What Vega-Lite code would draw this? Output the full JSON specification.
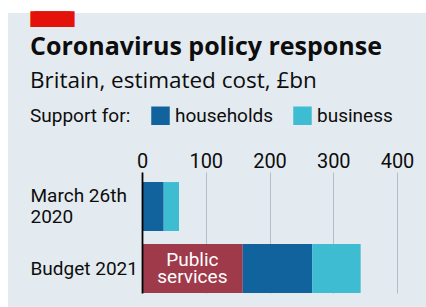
{
  "$schema": "https://vega.github.io/schema/vega-lite/v6.json",
  "width": 418,
  "height": 294,
  "autosize": {"type": "none"},
  "padding": {"left": 8, "top": 13, "right": 0, "bottom": 0},
  "background": "#ffffff",
  "view": {"fill": "#e4ebf0", "stroke": null},
  "config": {"font": "Roboto"},
  "title": {
    "text": "Coronavirus policy response",
    "subtitle": "Britain, estimated cost, £bn",
    "anchor": "start",
    "frame": "group",
    "orient": "top",
    "offset": 0,
    "dx": 22,
    "dy": 80,
    "font": "Open Sans",
    "fontSize": 25,
    "fontWeight": "bold",
    "color": "#0d0d0d",
    "subtitleFont": "Open Sans",
    "subtitleFontSize": 22.5,
    "subtitleColor": "#0d0d0d",
    "subtitlePadding": 10
  },
  "data": {
    "values": [
      {"period": "March 26th 2020", "category": "households", "start": 0, "end": 34},
      {"period": "March 26th 2020", "category": "business", "start": 34, "end": 58},
      {"period": "Budget 2021", "category": "Public services", "start": 0, "end": 158},
      {"period": "Budget 2021", "category": "households", "start": 158, "end": 267},
      {"period": "Budget 2021", "category": "business", "start": 267, "end": 343}
    ]
  },
  "layer": [
    {
      "mark": {"type": "bar"},
      "encoding": {
        "y": {
          "field": "period",
          "type": "nominal",
          "sort": ["March 26th 2020", "Budget 2021"],
          "scale": {"range": [159, 280], "paddingInner": 0.21, "paddingOuter": 0.081, "align": 1},
          "axis": {
            "orient": "left",
            "offset": -134,
            "domain": true,
            "domainColor": "#000000",
            "domainWidth": 1.8,
            "ticks": false,
            "tickSize": 0,
            "grid": false,
            "zindex": 1,
            "labelAlign": "left",
            "labelPadding": 112,
            "labelFontSize": 19,
            "labelLineHeight": 21,
            "labelColor": "#0d0d0d",
            "labelBaseline": "middle",
            "labelLimit": 0,
            "labelOffset": {"condition": {"test": "datum.value == 'March 26th 2020'", "value": -10.5}, "value": 0},
            "labelExpr": "datum.value == 'March 26th 2020' ? ['March 26th', '2020'] : datum.label",
            "title": "█████",
            "titleAngle": 0,
            "titleX": -112,
            "titleY": 0,
            "titleAlign": "left",
            "titleBaseline": "top",
            "titleFont": "DejaVu Sans Mono",
            "titleFontSize": 13.288,
            "titleFontWeight": "normal",
            "titleColor": "#e3120b"
          }
        },
        "x": {
          "field": "start",
          "type": "quantitative",
          "scale": {"domain": [0, 400], "range": [134, 389], "nice": false, "zero": false},
          "axis": {
            "orient": "top",
            "offset": -159,
            "values": [0, 100, 200, 300, 400],
            "domain": false,
            "ticks": false,
            "tickSize": 0,
            "labelPadding": 5,
            "labelBaseline": "alphabetic",
            "labelFontSize": 20,
            "labelColor": "#0d0d0d",
            "labelFlush": false,
            "grid": true,
            "gridColor": "#b3bec6",
            "gridWidth": 1,
            "title": "█████",
            "titleAngle": 0,
            "titleX": 26,
            "titleY": -159,
            "titleAlign": "left",
            "titleBaseline": "top",
            "titleFont": "DejaVu Sans Mono",
            "titleFontSize": 13.288,
            "titleFontWeight": "normal",
            "titleColor": "#e3120b"
          }
        },
        "x2": {"field": "end"},
        "color": {
          "field": "category",
          "type": "nominal",
          "scale": {
            "domain": ["Public services", "households", "business"],
            "range": ["#9f3a4b", "#10639c", "#3ebcd2"]
          },
          "legend": {
            "values": ["households", "business"],
            "orient": "none",
            "legendX": 22,
            "legendY": 93,
            "direction": "horizontal",
            "title": "Support for:",
            "titleOrient": "left",
            "titleFontSize": 19,
            "titleFontWeight": "normal",
            "titleColor": "#0d0d0d",
            "titlePadding": 20,
            "symbolType": "square",
            "symbolSize": 342,
            "symbolStrokeWidth": 0,
            "symbolOpacity": 1,
            "labelFontSize": 19,
            "labelColor": "#0d0d0d",
            "labelOffset": 5,
            "columnPadding": 19,
            "padding": 0
          }
        }
      }
    },
    {
      "transform": [
        {"filter": "datum.category === 'Public services'"},
        {"fold": ["start", "end"], "as": ["bound", "v"]}
      ],
      "mark": {"type": "text", "color": "#ffffff", "fontSize": 19, "lineBreak": " ", "lineHeight": 17, "align": "center", "baseline": "middle", "dy": -8.5},
      "encoding": {
        "x": {"aggregate": "mean", "field": "v", "type": "quantitative"},
        "y": {"field": "period", "type": "nominal", "sort": ["March 26th 2020", "Budget 2021"]},
        "text": {"field": "category", "type": "nominal"}
      }
    }
  ]
}
